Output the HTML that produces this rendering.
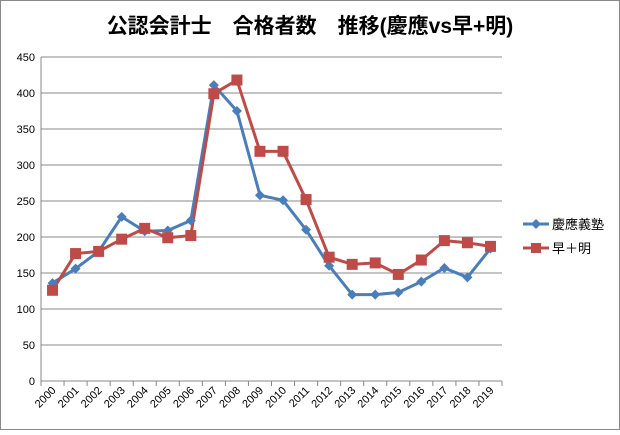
<!DOCTYPE html>
<html><head><meta charset="utf-8"><style>
body{margin:0;background:#fff}
svg text{font-family:"Liberation Sans","Noto Sans CJK JP",sans-serif}
</style></head><body>
<svg width="620" height="430" viewBox="0 0 620 430" xmlns="http://www.w3.org/2000/svg">
<rect x="0.5" y="0.5" width="619" height="429" fill="#fff" stroke="#888"/>
<text x="310" y="33" text-anchor="middle" font-size="21" font-weight="bold">公認会計士　合格者数　推移(慶應vs早+明)</text>
<g id="grid"></g><g id="axes"></g><g id="series"></g>
<g>
<line x1="523" y1="224" x2="549" y2="224" stroke="#4a7ebb" stroke-width="3"/>
<path d="M536 219 L541 224 L536 229 L531 224 Z" fill="#4a7ebb"/>
<text x="552" y="229" font-size="13">慶應義塾</text>
<line x1="523" y1="248" x2="549" y2="248" stroke="#be4b48" stroke-width="3"/>
<rect x="531" y="243" width="10" height="10" fill="#be4b48"/>
<text x="552" y="253" font-size="13">早＋明</text>
</g>
</svg>
<script>
const categories=["2000","2001","2002","2003","2004","2005","2006","2007","2008","2009","2010","2011","2012","2013","2014","2015","2016","2017","2018","2019"];
const keio=[136,156,180,228,208,209,223,411,375,258,251,210,160,120,120,123,138,157,144,184];
const wasedaMeiji=[126,177,180,197,212,199,202,399,418,319,319,252,172,162,164,148,168,195,192,187];
const yTicks=[0,50,100,150,200,250,300,350,400,450];
const NS="http://www.w3.org/2000/svg";
const L=41,R=502,T=57,B=381,yMax=450;
const step=(R-L)/categories.length;
const xs=i=>L+step*(i+0.5);
const ys=v=>B-(v/yMax)*(B-T);
function mk(tag,attrs,parent){const e=document.createElementNS(NS,tag);for(const k in attrs)e.setAttribute(k,attrs[k]);parent.appendChild(e);return e;}
const grid=document.getElementById('grid'),axes=document.getElementById('axes'),ser=document.getElementById('series');
yTicks.forEach(t=>{
 const y=ys(t);
 if(t>0){const g=mk('line',{x1:L,x2:R,y1:y,y2:y,stroke:'#888','stroke-width':1},grid);
 
 }
 const tx=mk('text',{x:L-6,y:y+4,'text-anchor':'end','font-size':11},axes);
 tx.textContent=t;
 
 
});
const ya=mk('line',{x1:L,x2:L,y1:T,y2:B,stroke:'#888'},axes);


const xa=mk('line',{x1:L,x2:R,y1:B,y2:B,stroke:'#888'},axes);


categories.forEach((c,i)=>{
 mk('line',{x1:L+step*i,x2:L+step*i,y1:B,y2:B+5,stroke:'#888'},axes);
 const x=xs(i);
 const tx=mk('text',{x:x+4,y:B+10,'text-anchor':'end','font-size':11,transform:`rotate(-45 ${x+4} ${B+10})`},axes);
 tx.textContent=c;
 
 
});
mk('line',{x1:R,x2:R,y1:B,y2:B+5,stroke:'#888'},axes);
function line(data,color,name){
 const p=mk('polyline',{points:data.map((v,i)=>xs(i)+','+ys(v)).join(' '),fill:'none',stroke:color,'stroke-width':3,'stroke-linejoin':'round'},ser);
 
 
}
line(keio,'#4a7ebb','keio');
line(wasedaMeiji,'#be4b48','waseda-meiji');
keio.forEach((v,i)=>{const x=xs(i),y=ys(v);
 const m=mk('path',{d:`M${x} ${y-5}L${x+5} ${y}L${x} ${y+5}L${x-5} ${y}Z`,fill:'#4a7ebb'},ser);
 
 });
wasedaMeiji.forEach((v,i)=>{const x=xs(i),y=ys(v);
 const m=mk('rect',{x:x-5.5,y:y-5.5,width:11,height:11,fill:'#be4b48'},ser);
 
 });
</script>
</body></html>
